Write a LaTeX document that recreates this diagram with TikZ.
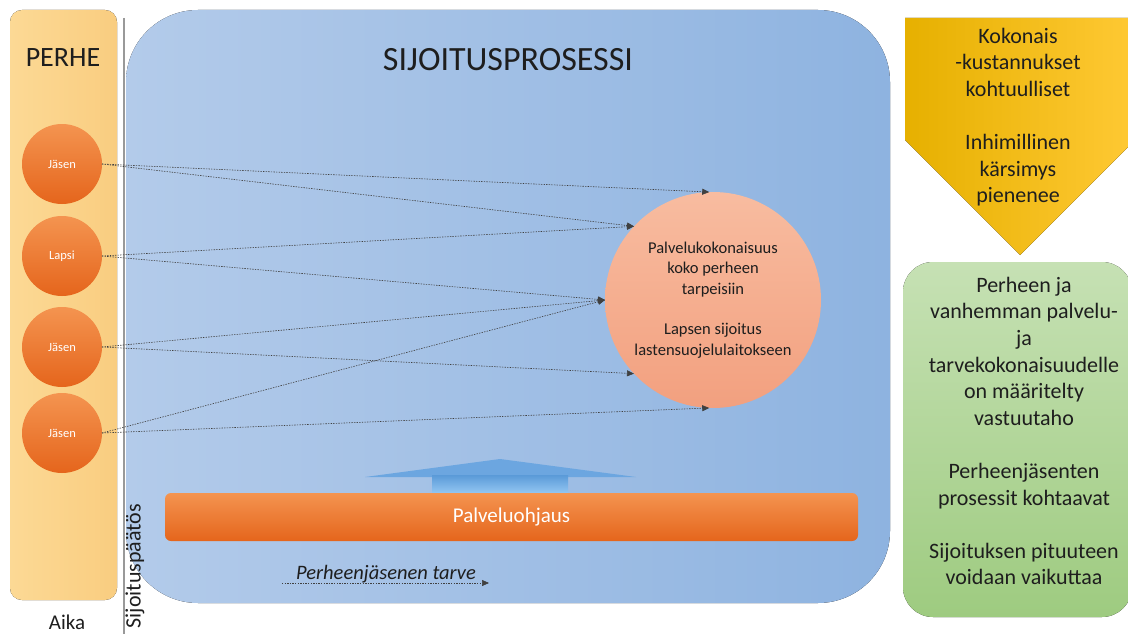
\documentclass[tikz,border=0pt]{standalone}
\usepackage{fontspec}
\setmainfont{Carlito}
\usetikzlibrary{arrows.meta,shapes.geometric}
\definecolor{perheA}{HTML}{FCD995}
\definecolor{perheB}{HTML}{F9CD80}
\definecolor{blueL}{HTML}{B3CBEA}
\definecolor{blueR}{HTML}{8EB3E0}
\definecolor{orgT}{HTML}{F49450}
\definecolor{orgB}{HTML}{E5651C}
\definecolor{salT}{HTML}{F8BCA0}
\definecolor{salB}{HTML}{F2A07F}
\definecolor{yelL}{HTML}{E6B000}
\definecolor{yelR}{HTML}{FFC934}
\definecolor{grnT}{HTML}{C6E1B4}
\definecolor{grnB}{HTML}{9ECB80}
\definecolor{arrHead}{HTML}{6CA6E0}
\definecolor{arrStemT}{HTML}{5A9AD8}
\definecolor{arrStemB}{HTML}{93C6F2}
\definecolor{txt}{HTML}{1E1E1E}
\begin{document}
\begin{tikzpicture}[x=1pt,y=-1pt,
  member/.style={circle, minimum size=80pt, inner sep=0pt, outer sep=0pt,
    top color=orgT, bottom color=orgB, text=white, font=\fontsize{12.5}{14}\selectfont},
  conn/.style={draw=black!75, line width=0.6pt, dash pattern=on 1.4pt off 1.2pt,
    -{Triangle[length=7pt,width=6pt]}},
  bigtext/.style={text=txt, align=center, font=\fontsize{22}{26.6}\selectfont},
]
\useasboundingbox (0,0) rectangle (1128,634);
\clip (0,0) rectangle (1128,634);
\fill[white] (0,0) rectangle (1128,634);

% PERHE column
\fill[rounded corners=12pt, left color=perheA, right color=perheB] (10,10) rectangle (117,600);
\node[text=txt, font=\fontsize{28}{32}\selectfont] (perhe) at (63,58) {PERHE};
\node[text=txt, font=\fontsize{21}{24}\selectfont] (aika) at (67,622) {Aika};

% time line
\coordinate (vt) at (124,18);
\coordinate (vb) at (124,634);
\draw[black!40, line width=1.2pt] (vt) -- (vb);

% process box
\fill[rounded corners=72pt, left color=blueL, right color=blueR] (126,10) rectangle (890,603);
\node[text=txt, font=\fontsize{34}{38}\selectfont] (title) at (508,60) {SIJOITUSPROSESSI};
\node[rotate=90, text=txt, font=\fontsize{22}{24}\selectfont] (paatos) at (135,566) {Sijoituspäätös};

% up arrow
\fill[arrHead] (365,477) -- (500,459) -- (636,477) -- cycle;
\fill[top color=arrStemT, bottom color=arrStemB] (432,475) rectangle (568,493);

% Palveluohjaus bar
\node[rounded corners=6pt, minimum width=693pt, minimum height=48pt, inner sep=0pt,
  top color=orgT, bottom color=orgB, text=white, font=\fontsize{21}{24}\selectfont]
  (po) at (511.5,517) {Palveluohjaus};

% big circle
\node[circle, minimum size=216pt, inner sep=0pt, outer sep=0pt,
  top color=salT, bottom color=salB, text=txt, align=center,
  font=\fontsize{16.5}{20.3}\selectfont] (big) at (713,300)
  {Palvelukokonaisuus\\koko perheen\\tarpeisiin\\[20.3pt]Lapsen sijoitus\\lastensuojelulaitokseen};

% members
\node[member] (j1) at (62,164) {Jäsen};
\node[member] (lapsi) at (62,256) {Lapsi};
\node[member] (j3) at (62,347) {Jäsen};
\node[member] (j4) at (62,433) {Jäsen};

% connectors
\draw[conn] (j1.east) -- (big.92);
\draw[conn] (j1.east) -- (big.137);
\draw[conn] (lapsi.east) -- (big.137);
\draw[conn] (lapsi.east) -- (big.180);
\draw[conn] (j3.east) -- (big.180);
\draw[conn] (j3.east) -- (big.223);
\draw[conn] (j4.east) -- (big.180);
\draw[conn] (j4.east) -- (big.268);

% need arrow
\node[text=txt, font=\itshape\fontsize{20.5}{24}\selectfont, anchor=base] (tarve) at (386,579) {Perheenjäsenen tarve};
\coordinate (t1) at (282,583);
\coordinate (t2) at (489,583);
\draw[conn] (t1) -- (t2);

% yellow arrow
\fill[left color=yelL, right color=yelR] (905,18) -- (1135,18) -- (1135,140) -- (1020,255) -- (905,140) -- cycle;
\node[bigtext] (costs) at (1018,117)
  {Kokonais\\-kustannukset\\kohtuulliset\\[26.6pt]Inhimillinen\\kärsimys\\pienenee};

% green box
\fill[rounded corners=30pt, top color=grnT, bottom color=grnB] (903,262) rectangle (1132,617);
\node[bigtext] (results) at (1024,431)
  {Perheen ja\\vanhemman palvelu-\\ja\\tarvekokonaisuudelle\\on määritelty\\vastuutaho\\[26.6pt]Perheenjäsenten\\prosessit kohtaavat\\[26.6pt]Sijoituksen pituuteen\\voidaan vaikuttaa};
\end{tikzpicture}
\end{document}
